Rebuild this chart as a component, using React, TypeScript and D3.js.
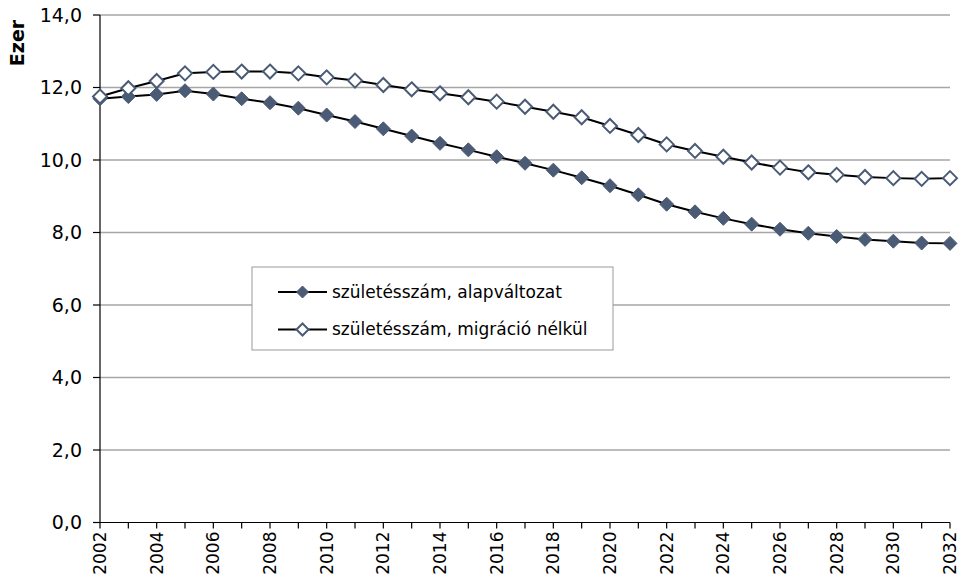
import React from "react";
import * as d3 from "d3";

const years: number[] = d3.range(2002, 2033);
const alapValtozat: number[] = [
  11.69, 11.75, 11.81, 11.91, 11.82, 11.69, 11.58, 11.43, 11.24, 11.06,
  10.86, 10.66, 10.46, 10.28, 10.09, 9.91, 9.72, 9.51, 9.29, 9.04,
  8.78, 8.57, 8.39, 8.23, 8.09, 7.98, 7.89, 7.81, 7.76, 7.71, 7.70,
];
const migracioNelkul: number[] = [
  11.75, 11.98, 12.18, 12.39, 12.43, 12.44, 12.44, 12.39, 12.28, 12.19,
  12.07, 11.95, 11.84, 11.73, 11.61, 11.47, 11.33, 11.18, 10.94, 10.69,
  10.43, 10.25, 10.09, 9.93, 9.79, 9.66, 9.59, 9.53, 9.50, 9.48, 9.50,
];
const yTicks: number[] = [0, 2, 4, 6, 8, 10, 12, 14];
const xLabelYears: number[] = d3.range(2002, 2033, 2);
const seriesNames: string[] = [
  "születésszám, alapváltozat",
  "születésszám, migráció nélkül",
];
const yTitle = "Ezer";

const FONT = "'DejaVu Sans', Verdana, sans-serif";
const MARK = "#4B5B75";

function Diamond({ x, y, r, filled }: { x: number; y: number; r: number; filled: boolean }) {
  const d = `M${x},${y - r}L${x + r},${y}L${x},${y + r}L${x - r},${y}Z`;
  return filled ? (
    <path d={d} fill={MARK} stroke={MARK} strokeWidth={1} />
  ) : (
    <path d={d} fill="#fff" stroke={MARK} strokeWidth={2} />
  );
}

export default function App() {
  const W = 964, H = 577;
  const x = d3.scaleLinear().domain([2002, 2032]).range([100, 950]);
  const y = d3.scaleLinear().domain([0, 14]).range([522.5, 15]);
  const fmt = (v: number) => v.toFixed(1).replace(".", ",");
  const line = d3
    .line<number>()
    .x((_, i) => x(years[i]))
    .y((d) => y(d));

  const series = [
    { name: seriesNames[0], values: alapValtozat, filled: true },
    { name: seriesNames[1], values: migracioNelkul, filled: false },
  ];

  const legX = 252, legY = 267, legW = 361, legH = 83;

  return (
    <svg
      width={W}
      height={H}
      style={{ position: "absolute", left: 0, top: 0, background: "#fff" }}
      fontFamily={FONT}
    >
      <rect x={0} y={0} width={W} height={H} fill="#fff" />
      {yTicks.filter((t) => t > 0).map((t) => (
        <line key={t} x1={x(2002)} x2={x(2032)} y1={y(t)} y2={y(t)} stroke="#a6a6a6" strokeWidth={1.5} />
      ))}
      {/* y axis */}
      <line x1={x(2002)} x2={x(2002)} y1={y(14)} y2={y(0)} stroke="#000" strokeWidth={1.2} />
      {yTicks.map((t) => (
        <g key={t}>
          <line x1={x(2002) - 7} x2={x(2002)} y1={y(t)} y2={y(t)} stroke="#000" strokeWidth={1.2} />
          <text x={82} y={y(t)} dy="0.36em" textAnchor="end" fontSize={19} fill="#000">
            {fmt(t)}
          </text>
        </g>
      ))}
      {/* x axis */}
      <line x1={x(2002)} x2={x(2032)} y1={y(0)} y2={y(0)} stroke="#000" strokeWidth={1.2} />
      {years.map((yr) => (
        <line key={yr} x1={x(yr)} x2={x(yr)} y1={y(0)} y2={y(0) + 6} stroke="#000" strokeWidth={1.2} />
      ))}
      {xLabelYears.map((yr) => (
        <text
          key={yr}
          transform={`translate(${x(yr)},${y(0) + 9}) rotate(-90)`}
          dy="0.36em"
          textAnchor="end"
          fontSize={17}
          fill="#000"
        >
          {yr}
        </text>
      ))}
      <text
        transform={`translate(24,43) rotate(-90)`}
        textAnchor="middle"
        fontSize={19}
        fontWeight="bold"
        fill="#000"
      >
        {yTitle}
      </text>
      {series.map((s) => (
        <g key={s.name}>
          <path d={line(s.values) || ""} fill="none" stroke="#000" strokeWidth={2} />
          {s.values.map((v, i) => (
            <Diamond key={i} x={x(years[i])} y={y(v)} r={7} filled={s.filled} />
          ))}
        </g>
      ))}
      {/* legend */}
      <rect x={legX} y={legY} width={legW} height={legH} fill="#fff" stroke="#9a9a9a" strokeWidth={1} />
      {series.map((s, i) => {
        const ly = legY + 25 + i * 37.5;
        return (
          <g key={s.name}>
            <line x1={278} x2={327} y1={ly} y2={ly} stroke="#000" strokeWidth={2} />
            <Diamond x={302.5} y={ly} r={6} filled={s.filled} />
            <text x={332} y={ly} dy="0.35em" fontSize={17} fill="#000">
              {s.name}
            </text>
          </g>
        );
      })}
    </svg>
  );
}
